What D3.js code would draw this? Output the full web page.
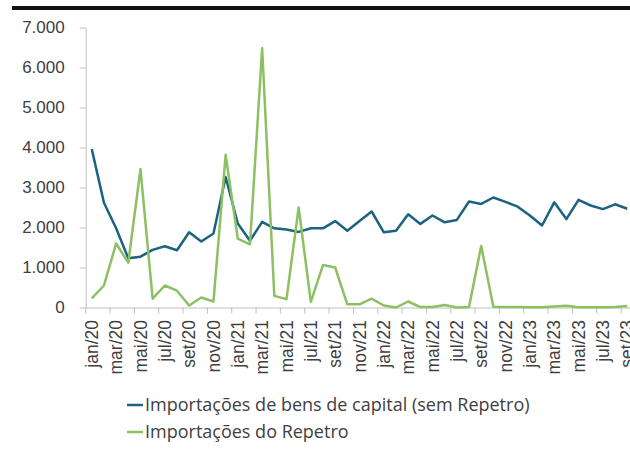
<!DOCTYPE html>
<html>
<head>
<meta charset="utf-8">
<script src="https://cdn.jsdelivr.net/npm/d3@7"></script>
<style>
  body { margin: 0; background: #fff; }
  svg { display: block; font-family: "Open Sans", "Noto Sans", sans-serif; }
  .axis path, .axis line { stroke: #bfbfbf; }
  .axis text { fill: #404040; }
</style>
</head>
<body>
<div id="chart"></div>
<script>
var months = [
  "jan/20","fev/20","mar/20","abr/20","mai/20","jun/20","jul/20","ago/20","set/20","out/20","nov/20","dez/20",
  "jan/21","fev/21","mar/21","abr/21","mai/21","jun/21","jul/21","ago/21","set/21","out/21","nov/21","dez/21",
  "jan/22","fev/22","mar/22","abr/22","mai/22","jun/22","jul/22","ago/22","set/22","out/22","nov/22","dez/22",
  "jan/23","fev/23","mar/23","abr/23","mai/23","jun/23","jul/23","ago/23","set/23"
];

// Importações de bens de capital (sem Repetro)
var bensCapital = [
  3960, 2620, 1980, 1230, 1270, 1440, 1530, 1430, 1880, 1650, 1850, 3260,
  2100, 1670, 2140, 1980, 1950, 1890, 1980, 1980, 2160, 1920, 2160, 2400,
  1880, 1920, 2330, 2090, 2300, 2130, 2190, 2650, 2590, 2750, 2640, 2520,
  2300, 2050, 2630, 2210, 2690, 2550, 2460, 2580, 2470
];

// Importações do Repetro
var repetro = [
  230, 550, 1600, 1120, 3460, 220, 550, 420, 50, 250, 150, 3820,
  1720, 1580, 6480, 290, 210, 2500, 140, 1060, 1000, 80, 80, 220,
  50, 0, 150, 10, 10, 60, 0, 10, 1540, 20, 10, 15,
  5, 5, 25, 45, 5, 5, 5, 10, 40
];

var yTicks = [0, 1000, 2000, 3000, 4000, 5000, 6000, 7000];

var seriesNames = [
  "Importações de bens de capital (sem Repetro)",
  "Importações do Repetro"
];
var seriesColors = ["#1b6380", "#8dc063"];

var width = 630, height = 453;
var plot = { left: 85.7, right: 633.3, top: 27.5, bottom: 307.5 };

var svg = d3.select("#chart").append("svg")
  .attr("width", width)
  .attr("height", height);

// top rule
svg.append("rect")
  .attr("x", 12).attr("y", 6)
  .attr("width", width - 12).attr("height", 4)
  .attr("fill", "#111");

var x = d3.scaleBand()
  .domain(months)
  .range([plot.left, plot.right]);

var y = d3.scaleLinear()
  .domain([0, 7000])
  .range([plot.bottom, plot.top]);

var ptBR = d3.formatLocale({ decimal: ",", thousands: ".", grouping: [3], currency: ["R$", ""] });

// Y axis
svg.append("g")
  .attr("class", "y axis")
  .attr("transform", "translate(" + plot.left + ",0)")
  .call(d3.axisLeft(y).tickValues(yTicks).tickSize(6).tickSizeOuter(0).tickPadding(15).tickFormat(ptBR.format(",")))
  .call(function(g) {
    g.selectAll("text").style("font-size", "17px");
  });

// X axis
var labelled = months.filter(function(d, i) { return i % 2 === 0; });

var xAxisG = svg.append("g")
  .attr("class", "x axis")
  .attr("transform", "translate(0," + plot.bottom + ")")
  .call(d3.axisBottom(x).tickValues(labelled).tickSize(0).tickSizeOuter(0));

xAxisG.selectAll("text")
  .attr("transform", "rotate(-90)")
  .attr("x", -12.5)
  .attr("y", 0)
  .attr("dy", "0.35em")
  .style("text-anchor", "end")
  .style("font-size", "17.5px");

// tick marks between every two months
xAxisG.selectAll(".bound")
  .data(labelled)
  .enter().append("line")
  .attr("class", "bound")
  .attr("x1", function(d) { return x(d); })
  .attr("x2", function(d) { return x(d); })
  .attr("y1", 0)
  .attr("y2", 6);

// lines
var line = d3.line()
  .x(function(d, i) { return x(months[i]) + x.bandwidth() / 2; })
  .y(function(d) { return y(d); });

[bensCapital, repetro].forEach(function(s, k) {
  svg.append("path")
    .datum(s)
    .attr("fill", "none")
    .attr("stroke", seriesColors[k])
    .attr("stroke-width", 2.5)
    .attr("stroke-linejoin", "round")
    .attr("d", line);
});

// legend
var legend = svg.selectAll(".legend")
  .data(seriesNames)
  .enter().append("g")
  .attr("class", "legend")
  .attr("transform", function(d, i) { return "translate(127," + (405 + i * 27) + ")"; });

legend.append("line")
  .attr("x1", 0).attr("x2", 16)
  .attr("stroke", function(d, i) { return seriesColors[i]; })
  .attr("stroke-width", 2.5);

legend.append("text")
  .attr("x", 18)
  .attr("dy", "0.35em")
  .style("font-size", "18px")
  .style("fill", "#404040")
  .text(function(d) { return d; });
</script>
</body>
</html>
